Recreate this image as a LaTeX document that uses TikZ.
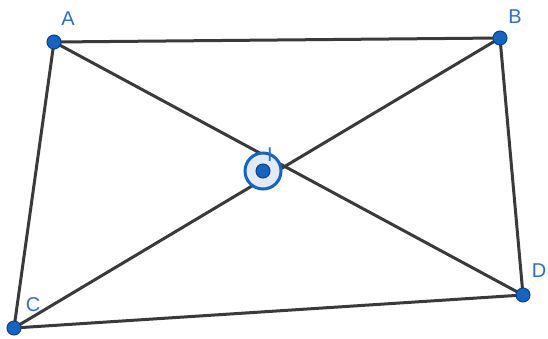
\documentclass[tikz,border=0pt]{standalone}
\usepackage{fontspec}
\setsansfont{Liberation Sans}
\definecolor{qdink}{HTML}{3A3A3A}
\definecolor{qdblue}{HTML}{1565C0}
\definecolor{qddark}{HTML}{0D3F8A}
\definecolor{qdlabel}{HTML}{2A6FCF}
\definecolor{qdpale}{HTML}{E2EAF5}
\tikzset{
  qd edge/.style={draw=qdink, line width=3pt, line cap=round},
  qd point/.style={circle, draw=qddark, line width=1pt, fill=qdblue,
    inner sep=0pt, minimum size=14pt},
  qd ring/.style={circle, draw=qdblue, line width=3pt, fill=qdpale,
    inner sep=0pt, minimum size=36pt},
  qd label/.style={font=\sffamily\fontsize{20}{20}\selectfont, text=qdlabel, inner sep=0pt}
}
\begin{document}
\begin{tikzpicture}[x=1pt, y=-1pt]
  \useasboundingbox (0,0) rectangle (548,338);
  \coordinate (A) at (54,42);
  \coordinate (B) at (500,38);
  \coordinate (C) at (14,328);
  \coordinate (D) at (523,295);
  \coordinate (I) at (263,171);
  \draw[qd edge] (A)--(B)--(D)--(C)--cycle;
  \draw[qd edge] (A)--(D);
  \draw[qd edge] (B)--(C);
  \node[qd ring] (ringI) at (I) {};
  \foreach \p in {A,B,C,D,I}
    \node[qd point] (dot\p) at (\p) {};
  \node[qd label] (labA) at (68,19) {A};
  \node[qd label] (labB) at (515,17) {B};
  \node[qd label] (labC) at (33,305) {C};
  \node[qd label] (labD) at (539,271) {D};
  \node[qd label] (labI) at (270,155) {I};
\end{tikzpicture}
\end{document}
